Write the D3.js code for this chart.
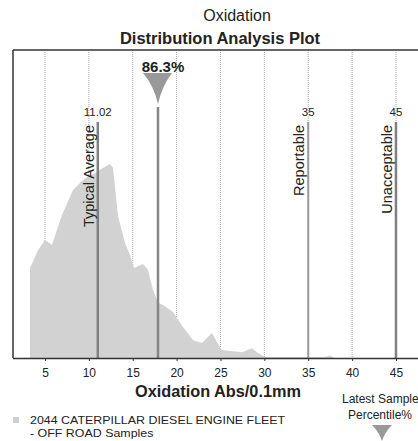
<!DOCTYPE html>
<html lang="en">
<head>
  <meta charset="UTF-8">
  <title>Oxidation Distribution Analysis Plot</title>
  <script src="https://cdn.jsdelivr.net/npm/d3@7/dist/d3.min.js"></script>
  <style>
    body { margin: 0; background: #fff; }
    text { font-family: "Liberation Sans", Arial, sans-serif; fill: #222; }
  </style>
</head>
<body>
  <svg width="418" height="441" id="main"></svg>
<script>
  // data
  const xTicks = [5, 10, 15, 20, 25, 30, 35, 40, 45];
  const distX = [3.29, 4.2, 5.0, 5.8, 6.94, 8.19, 8.76, 9.56, 10.93, 11.61, 12.41, 12.75, 13.32, 14.12, 14.69, 15.15, 16.17, 16.74, 17.31, 17.88, 18.45, 19.59, 20.73, 21.87, 22.89, 24.03, 24.6, 25.17, 27.45, 28.59, 29.28, 30.07, 34.06, 36.9, 37.5, 38.0];
  const distY = [29.2, 35.0, 38.3, 36.7, 46.4, 54.5, 56.2, 58.4, 60.4, 61.7, 63.0, 61.7, 46.1, 37.3, 33.4, 29.2, 30.5, 28.6, 22.1, 17.9, 17.2, 14.9, 10.1, 5.8, 4.9, 8.1, 5.2, 2.6, 1.9, 3.2, 1.6, 0.3, 0.3, 0.3, 0.8, 0];
  const markerNames = ['Typical Average', 'Reportable', 'Unacceptable'];
  const markerValues = [11.02, 35, 45];
  const markerTexts = ['11.02', '35', '45'];
  const latestValue = 17.88;
  const latestPct = '86.3%';

  const svg = d3.select('#main');
  const plot = { left: 13, top: 50, bottom: 358, right: 418 };

  const x = d3.scaleLinear().domain([0, 50]).range([1.1, 1.1 + 50 * 8.775]);
  const y = d3.scaleLinear().domain([0, 100]).range([plot.bottom, plot.top]);

  // titles
  svg.append('text').attr('x', 237).attr('y', 21).attr('text-anchor', 'middle')
    .attr('font-size', 16).text('Oxidation');
  svg.append('text').attr('x', 220).attr('y', 44).attr('text-anchor', 'middle')
    .attr('font-size', 16.5).attr('font-weight', 'bold').text('Distribution Analysis Plot');

  // grid lines
  svg.append('g').selectAll('line').data(xTicks).enter().append('line')
    .attr('x1', d => x(d)).attr('x2', d => x(d))
    .attr('y1', plot.top).attr('y2', plot.bottom)
    .attr('stroke', '#a8a8a8').attr('stroke-width', 1)
    .attr('stroke-dasharray', '1,1');

  // distribution area
  const pts = distX.map((v, i) => [v, distY[i]]);
  const area = d3.area().x(d => x(d[0])).y0(y(0)).y1(d => y(d[1]));
  svg.append('path').datum(pts).attr('d', area)
    .attr('fill', '#d2d2d2');

  // marker lines
  const mk = svg.append('g');
  markerValues.forEach((v, i) => {
    mk.append('line')
      .attr('x1', x(v)).attr('x2', x(v))
      .attr('y1', 122).attr('y2', plot.bottom)
      .attr('stroke', i === 1 ? '#9a9a9a' : '#808080').attr('stroke-width', i === 1 ? 2 : 2.5);
    mk.append('text').attr('x', x(v)).attr('y', 116).attr('text-anchor', 'middle')
      .attr('font-size', 11.5).text(markerTexts[i]);
    mk.append('text')
      .attr('transform', `translate(${x(v) - 4},125) rotate(-90)`)
      .attr('text-anchor', 'end').attr('font-size', 14.5).text(markerNames[i]);
  });

  // latest sample
  const lx = x(latestValue);
  svg.append('line').attr('x1', lx).attr('x2', lx).attr('y1', 107).attr('y2', plot.bottom)
    .attr('stroke', '#858585').attr('stroke-width', 2.5);
  svg.append('path')
    .attr('d', `M${lx - 15},73 L${lx + 14},73 Q${lx + 4},86 ${lx},104 Q${lx - 4},86 ${lx - 15},73 Z`)
    .attr('fill', '#999');
  svg.append('text').attr('x', lx + 5).attr('y', 72).attr('text-anchor', 'middle')
    .attr('font-size', 15).attr('font-weight', 'bold').text(latestPct);

  // frame
  svg.append('line').attr('x1', plot.left).attr('x2', plot.right).attr('y1', plot.top).attr('y2', plot.top)
    .attr('stroke', '#333').attr('stroke-width', 1.5);
  svg.append('line').attr('x1', plot.left).attr('x2', plot.left).attr('y1', plot.top).attr('y2', plot.bottom)
    .attr('stroke', '#333').attr('stroke-width', 1.5);

  // x axis
  const axis = svg.append('g').attr('transform', `translate(0,${plot.bottom})`)
    .call(d3.axisBottom(x).tickValues(xTicks).tickSize(3).tickPadding(7).tickSizeOuter(0));
  axis.select('.domain').attr('d', `M${plot.left},0.5H${plot.right}`).attr('stroke', '#333').attr('stroke-width', 1.5);
  axis.selectAll('.tick line').attr('stroke', '#333');
  axis.selectAll('text').attr('font-size', 12).attr('font-family', '"Liberation Sans", Arial, sans-serif').attr('fill', '#222');

  svg.append('text').attr('x', 218).attr('y', 397).attr('text-anchor', 'middle')
    .attr('font-size', 16.3).attr('font-weight', 'bold').text('Oxidation Abs/0.1mm');

  // legend
  svg.append('rect').attr('x', 13).attr('y', 417).attr('width', 6).attr('height', 6).attr('fill', '#cfcfcf');
  svg.append('text').attr('transform', 'translate(30,424) scale(1.13,1)').attr('font-size', 11)
    .text('2044 CATERPILLAR DIESEL ENGINE FLEET');
  svg.append('text').attr('transform', 'translate(30,437) scale(1.13,1)').attr('font-size', 11)
    .text('- OFF ROAD Samples');

  // latest sample key
  svg.append('text').attr('x', 342).attr('y', 403).attr('font-size', 12).attr('fill', '#333')
    .text('Latest Sample');
  svg.append('text').attr('x', 348).attr('y', 419).attr('font-size', 12).attr('fill', '#333')
    .text('Percentile%');
  svg.append('path').attr('d', 'M372,425 L392,425 Q385,432 382,441 Q379,432 372,425 Z').attr('fill', '#999');
</script>
</body>
</html>
